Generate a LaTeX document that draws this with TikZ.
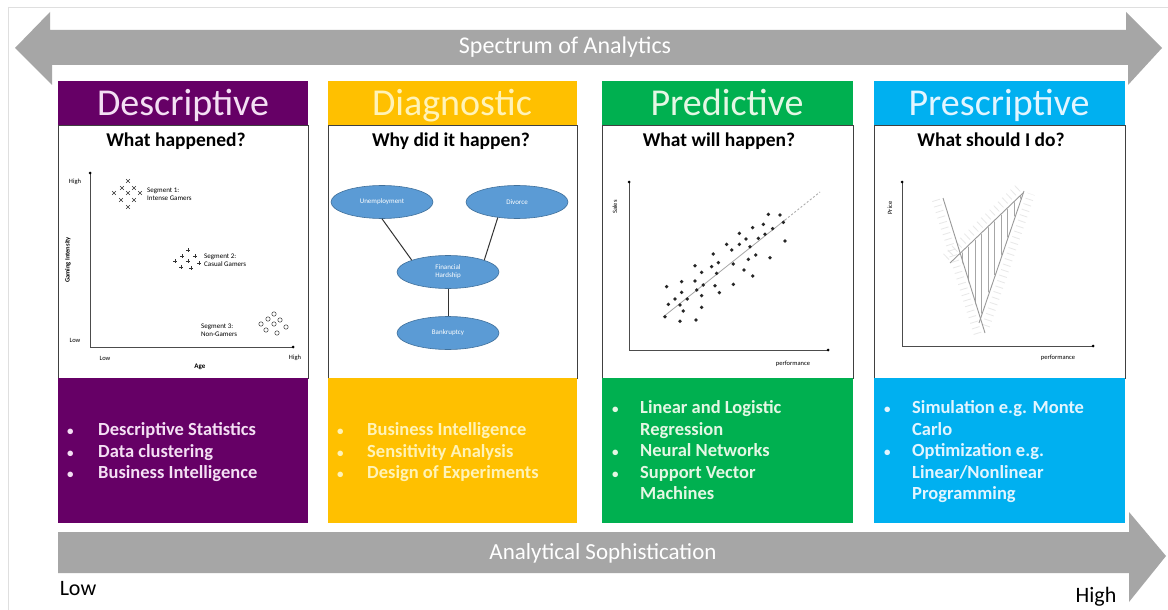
\documentclass[tikz,border=0pt]{standalone}
\usepackage{fontspec}
\setmainfont{Carlito}
\usetikzlibrary{shapes.geometric}
\definecolor{cpurple}{HTML}{660066}
\definecolor{cyellow}{HTML}{FFC000}
\definecolor{cgreen}{HTML}{00B050}
\definecolor{cblue}{HTML}{00B0F0}
\definecolor{cgray}{HTML}{A6A6A6}
\definecolor{ellfill}{HTML}{5B9BD5}
\definecolor{elldraw}{HTML}{41719C}
\definecolor{tpurple}{HTML}{F4DFF4}
\definecolor{tyellow}{HTML}{FFF3B8}
\definecolor{tgreen}{HTML}{E4F7E4}
\definecolor{tblue}{HTML}{E2F5FF}
\newcommand{\blt}{{\fontsize{13}{13}\selectfont\textbullet}}
\begin{document}
\begin{tikzpicture}[x=1pt,y=-1pt,
  hdr/.style={font=\fontsize{38}{40}\selectfont, inner sep=0, anchor=base},
  quest/.style={font=\bfseries\fontsize{19.5}{21}\selectfont, inner sep=0, anchor=base},
  blist/.style={font=\bfseries\fontsize{18.5}{21.5}\selectfont, anchor=base west, inner sep=0},
  ell/.style={ellipse, fill=ellfill, draw=elldraw, line width=0.6pt, minimum width=102pt, minimum height=33pt, inner sep=0, text=white, font=\fontsize{7}{8}\selectfont, align=center},
  small/.style={font=\fontsize{7}{8}\selectfont, inner sep=0},
  axlab/.style={font=\fontsize{6.5}{7}\selectfont, inner sep=0},
  panel/.style={draw=black!75, line width=0.8pt, fill=white},
  axis/.style={draw=black!70, line width=0.9pt},
  band/.style={fill=cgray},
  bandtext/.style={text=white, inner sep=0},
  ticks/.style={gray!18, line width=8pt, dash pattern=on 0.8pt off 5pt}
]
\useasboundingbox[fill=white] (0,0) rectangle (1168,610);
% frame lines
\draw[gray!25, line width=0.8pt] (8,7) -- (1168,7);
\draw[gray!25, line width=0.8pt] (8,7) -- (8,610);

% top double arrow
\fill[band] (15,48) -- (50,12) -- (50,30) -- (1126,30) -- (1126,12) -- (1162,48) -- (1128,85) -- (1128,65) -- (52,65) -- (52,85) -- cycle;
\node[bandtext, font=\fontsize{24}{26}\selectfont] (spec) at (565,47) {Spectrum of Analytics};

% bottom arrow
\fill[band] (58,532) -- (1129,532) -- (1129,512) -- (1166,556) -- (1129,602) -- (1129,573) -- (58,573) -- cycle;
\node[bandtext, font=\fontsize{23}{25}\selectfont] (soph) at (603,553) {Analytical Sophistication};
\node[font=\fontsize{22}{24}\selectfont, inner sep=0] (low) at (78,589) {Low};
\node[font=\fontsize{22}{24}\selectfont, inner sep=0] (high) at (1096,597) {High};

% ---------- headers, panels, bottom boxes ----------
\fill[cpurple] (58,81) rectangle (308,125);
\fill[cyellow] (328,81) rectangle (577,125);
\fill[cgreen] (602,81) rectangle (853,125);
\fill[cblue] (874,81) rectangle (1125,125);
\node[hdr, text=tpurple] (h1) at (183,115) {Descriptive};
\node[hdr, text=tyellow] (h2) at (452,115) {Diagnostic};
\node[hdr, text=tgreen] (h3) at (727,115) {Predictive};
\node[hdr, text=tblue] (h4) at (999,115) {Prescriptive};

\draw[panel] (58,125) rectangle (308,378);
\draw[panel] (328,125) rectangle (577,378);
\draw[panel] (602,125) rectangle (853,378);
\draw[panel] (874,125) rectangle (1125,378);

\fill[cpurple] (58,378) rectangle (308,523);
\fill[cyellow] (328,378) rectangle (577,523);
\fill[cgreen] (602,378) rectangle (853,523);
\fill[cblue] (874,378) rectangle (1125,523);

\node[quest] (q1) at (176,146) {What happened?};
\node[quest] (q2) at (451,146) {Why did it happen?};
\node[quest] (q3) at (719,146) {What will happen?};
\node[quest] (q4) at (991,146) {What should I do?};

% ---------- bullet lists ----------
\node[blist, text=tpurple] (l1) at (67,435.5) {\begin{tabular}[t]{@{}p{31pt}@{}l@{}}
\blt & Descriptive Statistics\\
\blt & Data clustering\\
\blt & Business Intelligence
\end{tabular}};
\node[blist, text=tyellow] (l2) at (337,435.5) {\begin{tabular}[t]{@{}p{30pt}@{}l@{}}
\blt & Business Intelligence\\
\blt & Sensitivity Analysis\\
\blt & Design of Experiments
\end{tabular}};
\node[blist, text=tgreen] (l3) at (612,413.5) {\begin{tabular}[t]{@{}p{28pt}@{}l@{}}
\blt & Linear and Logistic\\
 & Regression\\
\blt & Neural Networks\\
\blt & Support Vector\\
 & Machines
\end{tabular}};
\node[blist, text=tblue] (l4) at (884,413.5) {\begin{tabular}[t]{@{}p{28pt}@{}l@{}}
\blt & Simulation e.g. Monte\\
 & Carlo\\
\blt & Optimization e.g.\\
 & Linear/Nonlinear\\
 & Programming
\end{tabular}};

% ---------- Descriptive chart ----------
\coordinate (dtop) at (90,173);
\coordinate (dorig) at (90,347);
\coordinate (dright) at (293,347);
\draw[axis] (dtop) -- (dorig) -- (dright);
\fill[black] (dtop) circle (1.5) (dright) circle (1.5);
\node[axlab] (dhi) at (75,182) {High};
\node[axlab] (dlo) at (75,340) {Low};
\node[axlab] (dxlo) at (105,358) {Low};
\node[axlab] (dxhi) at (295,358) {High};
\node[axlab, font=\bfseries\fontsize{7}{8}\selectfont] (dage) at (200,367) {Age};
\node[axlab, font=\bfseries\fontsize{6.5}{7}\selectfont, rotate=90] (dgi) at (68,260) {Gaming Intensity};
\foreach \a/\b in {128/181,122/188,134/188,114/193,128/193,140/193,121/200,134/200,128/207}
  \draw[black!80, line width=0.6pt, shift={(\a,\b)}] (-1.8,-1.8) -- (1.8,1.8) (-1.8,1.8) -- (1.8,-1.8);
\foreach \a/\b in {188/250,182/256,195/256,175/261,188/261,199/263,181/267,191/268}
  \draw[black!80, line width=0.7pt, shift={(\a,\b)}] (-1.8,0) -- (1.8,0) (0,-1.8) -- (0,1.8);
\foreach \a/\b in {274/314,268/319,280/320,261/324,274/324,286/327,266/330,277/333}
  \draw[black!80, line width=0.5pt] (\a,\b) circle (2.2);
\node[small, anchor=west, align=left] (s1) at (147,194) {Segment 1:\\Intense Gamers};
\node[small, anchor=west, align=left] (s2) at (204,260) {Segment 2:\\Casual Gamers};
\node[small, anchor=west, align=left] (s3) at (201,330) {Segment 3:\\Non-Gamers};

% ---------- Diagnostic diagram ----------
\node[ell] (unemp) at (382,202) {Unemployment};
\node[ell] (div) at (517,202) {Divorce};
\node[ell] (fin) at (448,272) {Financial\\Hardship};
\node[ell] (bank) at (448,333) {Bankruptcy};
\draw[black!80, line width=1pt] (unemp.south) -- (fin.north west);
\draw[black!80, line width=1pt] (div.219) -- (fin.north east);
\draw[black!80, line width=1pt] (fin) -- (bank);

% ---------- Predictive chart ----------
\coordinate (ptop) at (629,182);
\coordinate (porig) at (629,350);
\coordinate (pright) at (828,350);
\draw[axis] (ptop) -- (porig) -- (pright);
\fill[black] (ptop) circle (1.5) (pright) circle (1.5);
\node[axlab, rotate=90] (psales) at (615,207) {Sales};
\node[axlab] (pperf) at (793,364) {performance};
\coordinate (r0) at (663,317);
\coordinate (r1) at (785,220);
\coordinate (r2) at (820,192);
\draw[gray!70, line width=0.8pt] (r0) -- (r1);
\draw[gray!70, line width=0.8pt, dash pattern=on 2pt off 2pt] (r1) -- (r2);
\foreach \a/\b in {200/500,205/553,195/590,225/537,240/604,245/485,245/517,250/573,240/555,262/537,285/437,285/483,290/510,288/600,305/457,305/527,305/562,310/495,335/440,340/402,345/497,355/428,350/460,358/518,380/373,395/390,400/432,400/493,418/340,418/373,432/450,438/357,445/418,450/380,458/323,458/468,467/405,475/355,490/313,495/343,510/413,505/283,518/326,540/285,550/307,555/363}
  \fill[black!85] ({\a/3+600},{\b/3+120}) circle (1.9);

% ---------- Prescriptive chart ----------
\coordinate (stop) at (902,182);
\coordinate (sorig) at (902,346);
\coordinate (sright) at (1093,346);
\draw[axis] (stop) -- (sorig) -- (sright);
\fill[black] (stop) circle (1.5) (sright) circle (1.5);
\node[axlab, rotate=90] (sprice) at (890,208) {Price};
\node[axlab] (sperf) at (1058,358) {performance};
\coordinate (a0) at (943,198);
\coordinate (a1) at (985,333);
\coordinate (b0) at (950,263);
\coordinate (b1) at (1023,193);
\coordinate (c0) at (979,323);
\coordinate (c1) at (1024,191);
\coordinate (t1) at (960,255);
\coordinate (t2) at (1022,195);
\coordinate (t3) at (980,318);
% constraint ticks
\draw[ticks] (936,200) -- (978,335);
\draw[ticks] (986,326) -- (1031,194);
\draw[ticks] (946,257) -- (1019,187);
\begin{scope}
\clip (t1) -- (t2) -- (t3) -- cycle;
\foreach \x in {962,968.5,...,1022}
  \draw[gray!70, line width=0.6pt] (\x,180) -- (\x,330);
\end{scope}
\draw[gray!80, line width=0.9pt] (a0) -- (a1);
\draw[gray!80, line width=0.9pt] (b0) -- (b1);
\draw[gray!80, line width=0.9pt] (c0) -- (c1);
\end{tikzpicture}
\end{document}
